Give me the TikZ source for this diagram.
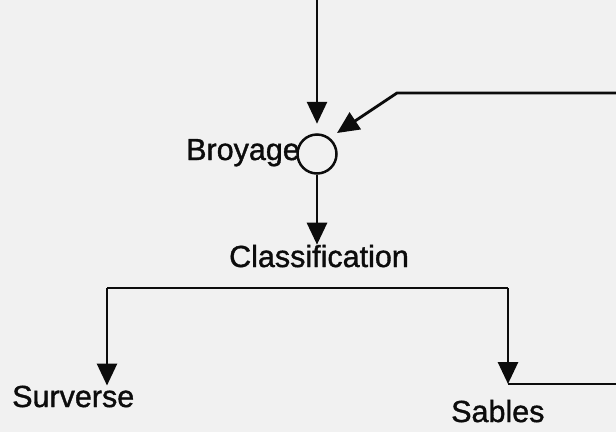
\documentclass[tikz,border=0pt]{standalone}
\usepackage{fontspec}
\setmainfont{Liberation Sans}
\newfontfamily\lblfont{Liberation Sans}[FakeBold=1.2]
\usetikzlibrary{arrows.meta}
\definecolor{bgscan}{RGB}{241,241,241}
\definecolor{ink}{RGB}{12,12,12}
\tikzset{
  flow/.style={draw=ink, line width=2.8pt, line join=miter},
  arr/.style={flow, -{Triangle[length=22pt,width=20pt]}},
  lbl/.style={inner sep=0pt, text=ink, font=\lblfont\fontsize{30.5}{36}\selectfont},
  mixer/.style={circle, draw=ink, line width=2.5pt, minimum size=39pt, inner sep=0pt}
}
\begin{document}
\begin{tikzpicture}[x=1pt,y=-1pt]
\fill[bgscan] (0,0) rectangle (616,432);
\useasboundingbox (0,0) rectangle (616,432);
% nodes
\node[mixer] (mix) at (317,154) {};
\node[lbl, anchor=base west] (broy) at (186,160) {Broyage};
\node[lbl, anchor=base] (class) at (319,267) {Classification};
\node[lbl, anchor=base west] (surv) at (12,407) {Surverse};
\node[lbl, anchor=base west] (sab) at (451,422) {Sables};
% coordinates
\coordinate (top) at (317,0);
\coordinate (feedin) at (616,93);
\coordinate (feedk) at (397,93);
\coordinate (feedtip) at (337,133);
\coordinate (sl) at (107,288);
\coordinate (sr) at (508,288);
\coordinate (sj) at (508,384);
\coordinate (sout) at (616,384);
% connectors
\draw[arr, shorten >=9.5pt] (top) -- (mix);
\draw[arr] (feedin) -- (feedk) -- (feedtip);
\draw[arr] (mix.south) -- (mix.south |- class.north);
\draw[flow] (sl) -- (sr);
\draw[arr] (sl) -- (sl |- surv.north);
\draw[arr] (sr) -- (sj);
\draw[flow] (sj) -- (sout);
\end{tikzpicture}
\end{document}
